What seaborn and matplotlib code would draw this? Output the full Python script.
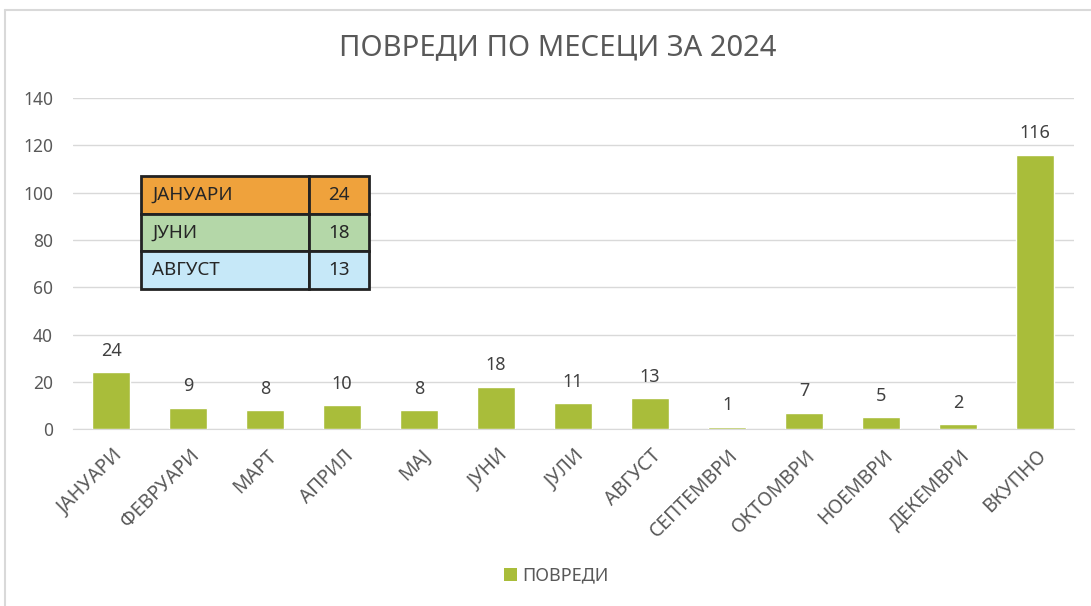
import matplotlib
matplotlib.use('Agg')
import matplotlib.pyplot as plt
import matplotlib.transforms as mtransforms
import seaborn as sns
import pandas as pd
from matplotlib.lines import Line2D
from matplotlib.patches import Patch

months = ['ЈАНУАРИ', 'ФЕВРУАРИ', 'МАРТ', 'АПРИЛ', 'МАЈ', 'ЈУНИ', 'ЈУЛИ',
          'АВГУСТ', 'СЕПТЕМВРИ', 'ОКТОМВРИ', 'НОЕМВРИ', 'ДЕКЕМВРИ', 'ВКУПНО']
injuries = [24, 9, 8, 10, 8, 18, 11, 13, 1, 7, 5, 2, 116]

table_labels = ['ЈАНУАРИ', 'ЈУНИ', 'АВГУСТ']
table_values = [24, 18, 13]
table_colors = ['#EFA23C', '#B4D7A8', '#C6E8F8']

bar_color = '#A9BD3A'
text_color = '#595959'

sns.set_style('white')
plt.rcParams['font.family'] = ['Noto Sans', 'DejaVu Sans']

df = pd.DataFrame({'month': months, 'count': injuries})

fig = plt.figure(figsize=(10.91, 6.06), dpi=100)
ax = fig.add_axes([0.0665, 0.292, 0.9175, 0.546])

sns.barplot(data=df, x='month', y='count', color=bar_color, width=0.5,
            saturation=1, ax=ax, zorder=3)

ax.set_ylim(0, 140)
ax.set_xlim(-0.5, len(months) - 0.5)
ax.set_yticks(range(0, 141, 20))
ax.yaxis.grid(True, color='#D9D9D9', linewidth=1, zorder=0)
ax.set_axisbelow(True)
for s in ['top', 'right', 'left']:
    ax.spines[s].set_visible(False)
ax.spines['bottom'].set_color('#D9D9D9')
ax.tick_params(axis='both', length=0, colors=text_color, labelsize=12.5)
ax.tick_params(axis='y', pad=14)
ax.tick_params(axis='x', pad=12)
ax.set_xticks(range(len(months)))
ax.set_xticklabels(months, rotation=45, ha='right', rotation_mode='anchor',
                   fontsize=14, color=text_color)
# nudge rotated labels a little to the right, like the original
offset = mtransforms.ScaledTranslation(1 / 72, 0, fig.dpi_scale_trans)
for lbl in ax.get_xticklabels():
    lbl.set_transform(lbl.get_transform() + offset)
ax.set_xlabel('')
ax.set_ylabel('')

# value labels above bars
for i, v in enumerate(injuries):
    ax.annotate(str(v), (i, v), xytext=(0, 9), textcoords='offset points',
                ha='center', va='bottom', fontsize=13, color='#404040')

# title
fig.text(0.511, 0.922, 'ПОВРЕДИ ПО МЕСЕЦИ ЗА 2024', ha='center', va='center',
         fontsize=21, color=text_color)

# small table inset
tab = ax.table(cellText=[[l, str(v)] for l, v in zip(table_labels, table_values)],
               cellColours=[[c, c] for c in table_colors],
               colWidths=[0.168, 0.06],
               bbox=[0.068, 0.423, 0.228, 0.342], zorder=5)
tab.auto_set_font_size(False)
for (r, c), cell in tab.get_celld().items():
    cell.set_edgecolor('#222222')
    cell.set_linewidth(2)
    cell.get_text().set_fontsize(13.5)
    cell.get_text().set_color('#262626')
    if c == 0:
        cell.get_text().set_ha('left')
        cell.PAD = 0.07
    else:
        cell.get_text().set_ha('center')

# legend
handles = [Patch(facecolor=bar_color, edgecolor='none', label='ПОВРЕДИ')]
leg = fig.legend(handles=handles, loc='center', bbox_to_anchor=(0.51, 0.05),
                 frameon=False, fontsize=13, handlelength=0.7, handleheight=0.7,
                 handletextpad=0.3)
for t in leg.get_texts():
    t.set_color(text_color)

# outer chart frame
fig.add_artist(Line2D([5 / 1091, 5 / 1091], [0, 1 - 10 / 606],
                      transform=fig.transFigure, color='#D9D9D9', linewidth=1.5))
fig.add_artist(Line2D([5 / 1091, 1], [1 - 10 / 606, 1 - 10 / 606],
                      transform=fig.transFigure, color='#D9D9D9', linewidth=1.5))

fig.savefig('out.png', dpi=100)
